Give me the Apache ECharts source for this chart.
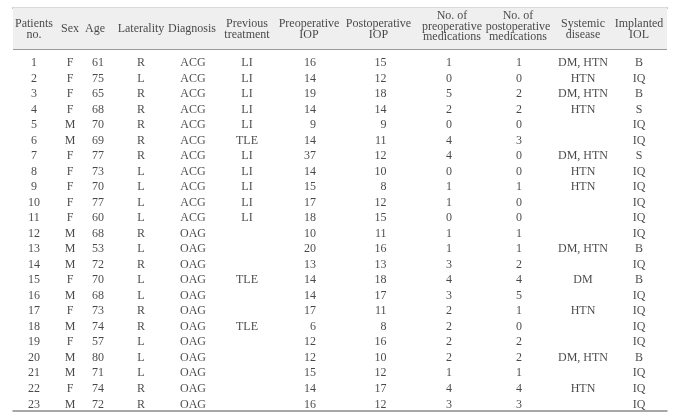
<!DOCTYPE html>
<html>
<head>
<meta charset="utf-8">
<script src="https://cdn.jsdelivr.net/npm/echarts@6/dist/echarts.min.js"></script>
<style>html,body{margin:0;padding:0;background:#fff}#c{width:682px;height:415px}</style>
</head>
<body>
<div id="c"></div>
<script>
// ---- data ----
var headers = ['Patients\nno.', 'Sex', 'Age', 'Laterality', 'Diagnosis', 'Previous\ntreatment',
  'Preoperative\nIOP', 'Postoperative\nIOP', 'No. of\npreoperative\nmedications',
  'No. of\npostoperative\nmedications', 'Systemic\ndisease', 'Implanted\nIOL'];
var patientNo = [1,2,3,4,5,6,7,8,9,10,11,12,13,14,15,16,17,18,19,20,21,22,23];
var sex = ['F','F','F','F','M','M','F','F','F','F','F','M','M','M','F','M','F','M','F','M','M','F','M'];
var age = [61,75,65,68,70,69,77,73,70,77,60,68,53,72,70,68,73,74,57,80,71,74,72];
var laterality = ['R','L','R','R','R','R','R','L','L','L','L','R','L','R','L','L','R','R','L','L','L','R','R'];
var diagnosis = ['ACG','ACG','ACG','ACG','ACG','ACG','ACG','ACG','ACG','ACG','ACG',
  'OAG','OAG','OAG','OAG','OAG','OAG','OAG','OAG','OAG','OAG','OAG','OAG'];
var prevTreatment = ['LI','LI','LI','LI','LI','TLE','LI','LI','LI','LI','LI','','','','TLE','','','TLE','','','','',''];
var preopIOP = [16,14,19,14,9,14,37,14,15,17,18,10,20,13,14,14,17,6,12,12,15,14,16];
var postopIOP = [15,12,18,14,9,11,12,10,8,12,15,11,16,13,18,17,11,8,16,10,12,17,12];
var preopMeds = [1,0,5,2,0,4,4,0,1,1,0,1,1,3,4,3,2,2,2,2,1,4,3];
var postopMeds = [1,0,2,2,0,3,0,0,1,0,0,1,1,2,4,5,1,0,2,2,1,4,3];
var systemicDisease = ['DM, HTN','HTN','DM, HTN','HTN','','','DM, HTN','HTN','HTN','','','',
  'DM, HTN','','DM','','HTN','','','DM, HTN','','HTN',''];
var implantedIOL = ['B','IQ','B','S','IQ','IQ','S','IQ','IQ','IQ','IQ','IQ','B','IQ','B','IQ','IQ','IQ','IQ','B','IQ','IQ','IQ'];

var columns = [patientNo, sex, age, laterality, diagnosis, prevTreatment, preopIOP, postopIOP,
  preopMeds, postopMeds, systemicDisease, implantedIOL];

// ---- layout (pixel-like positions on the x value axis) ----
var headerX = [34, 70, 95, 141, 192, 247, 309, 378.5, 452, 518, 583, 639];
var cellX   = [34, 70, 98, 141, 193, 247, 316, 386.5, 449, 519, 583, 639];
var cellAlign = ['c','c','c','c','c','c','r','r','c','c','c','c'];
var Y_MIN = -2.613, Y_MAX = 23.41, HEADER_Y = -1.22, HEADER_LINE = 0.097;

var FONT = '"Liberation Serif", "Times New Roman", Times, serif';
var TXT = '#1a1a1a';

var series = [];
columns.forEach(function (col, ci) {
  var data = [];
  col.forEach(function (v, ri) {
    if (v === '' || v === null) return;
    data.push([cellX[ci], ri + 1, String(v)]);
  });
  series.push({
    type: 'scatter', symbolSize: 0, silent: true, data: data,
    label: {
      show: true,
      position: cellAlign[ci] === 'r' ? 'left' : 'inside',
      distance: 0,
      formatter: function (p) { return p.data[2]; },
      fontFamily: FONT, fontSize: 12, color: TXT
    }
  });
});

// header
series.push({
  type: 'scatter', symbolSize: 0, silent: true,
  data: headers.map(function (h, i) {
    var nl = h.split('\n').length;
    return { value: [headerX[i], HEADER_Y, h],
      label: nl === 3 ? { offset: [0, -2.3], lineHeight: 10.3 } : { lineHeight: 11 } };
  }),
  label: {
    show: true, position: 'inside',
    formatter: function (p) { return p.data.value[2]; },
    fontFamily: FONT, fontSize: 12, lineHeight: 11, color: TXT, align: 'center'
  },
  markArea: {
    silent: true,
    itemStyle: { color: '#efefef' },
    data: [[{ yAxis: Y_MIN }, { yAxis: HEADER_LINE }]]
  },
  markLine: {
    silent: true, symbol: 'none', label: { show: false },
    lineStyle: { color: '#9a9a9a', width: 1, type: 'solid' },
    data: [{ yAxis: HEADER_LINE }]
  },
  z: 3
});

var chart = echarts.init(document.getElementById('c'), null, { renderer: 'canvas' });
chart.setOption({
  animation: false,
  grid: { left: 13, right: 15, top: 7.3, bottom: 4.3, containLabel: false },
  xAxis: [
    { type: 'value', min: 13, max: 667, position: 'bottom',
      axisLine: { show: true, onZero: false, lineStyle: { color: '#8a8a8a', width: 1.5 } },
      axisTick: { show: false }, axisLabel: { show: false }, splitLine: { show: false } },
    { type: 'value', min: 13, max: 667, position: 'top',
      axisLine: { show: true, onZero: false, lineStyle: { color: '#7a7a7a', width: 1.5 } },
      axisTick: { show: false }, axisLabel: { show: false }, splitLine: { show: false } }
  ],
  yAxis: { type: 'value', inverse: true, min: Y_MIN, max: Y_MAX, show: false,
    splitLine: { show: false } },
  series: series
});
</script>
</body>
</html>
